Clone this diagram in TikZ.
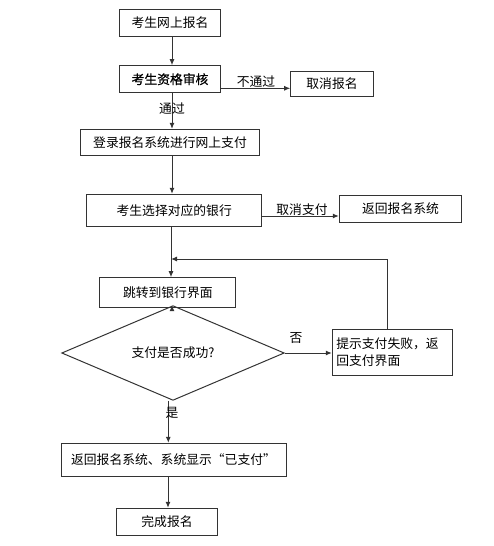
\documentclass[tikz,border=0pt]{standalone}
\usepackage{fontspec}
\newfontfamily\cjk{Noto Sans CJK SC}
\newfontfamily\cjkb[FakeBold=0.8]{Noto Sans CJK SC}
\usetikzlibrary{shapes.geometric,arrows.meta}
\begin{document}
\begin{tikzpicture}[x=1pt,y=-1pt,
  font=\cjk\fontsize{12.8}{17}\selectfont,
  box/.style={draw=black!80,line width=1pt,rectangle,inner sep=0pt,align=center},
  dec/.style={draw=black!80,line width=1pt,diamond,inner sep=0pt},
  arr/.style={draw=black!80,line width=1pt,-{Latex[length=6pt,width=5pt]}},
  lbl/.style={inner sep=0pt}]
\useasboundingbox (0,0) rectangle (494,546);
\coordinate (spine) at (172,0);
\node[box,minimum width=101.4pt,minimum height=27pt] (b1) at (170,22.5) {考生网上报名};
\node[box,minimum width=101pt,minimum height=27pt] (b2) at (170,79.2) {\cjkb 考生资格审核};
\node[box,minimum width=82.6pt,minimum height=25pt] (c1) at (332,83.5) {取消报名};
\node[box,minimum width=178.6pt,minimum height=25.7pt] (b3) at (170,142.2) {登录报名系统进行网上支付};
\node[box,minimum width=175pt,minimum height=32.4pt] (b4) at (174.2,210.5) {考生选择对应的银行};
\node[box,minimum width=122.4pt,minimum height=27.3pt] (r1) at (400.5,208.7) {返回报名系统};
\node[box,minimum width=135.7pt,minimum height=29.6pt] (b5) at (167.8,292.5) {跳转到银行界面};
\node[dec,minimum width=222.6pt,minimum height=56pt] (d1) at (173,353) {支付是否成功?};
\node[box,minimum width=120pt,minimum height=46pt,text width=112pt,align=left] (f1) at (392.3,352.3) {提示支付失败，返\\回支付界面};
\node[box,minimum width=225pt,minimum height=32.7pt] (b7) at (173.5,459.7) {返回报名系统、系统显示“已支付”};
\node[box,minimum width=100.6pt,minimum height=27.4pt] (b8) at (167,522) {完成报名};
\coordinate (p1) at (0,88.3);
\coordinate (p2) at (0,216);
\coordinate (lx) at (387.7,0);
\coordinate (ly) at (0,259);
\coordinate (sx2) at (171,0);
\coordinate (sx3) at (168.3,0);
\coordinate (sx4) at (168,0);
\draw[arr] (b1.south -| spine) -- (b2.north -| spine);
\draw[arr] (b2.south -| spine) -- node[lbl,pos=0.42] {通过} (b3.north -| spine);
\draw[arr] (b2.east |- p1) -- (c1.west |- p1);
\node[lbl] (t1) at (256,81.5) {不通过};
\draw[arr] (b3.south -| spine) -- (b4.north -| spine);
\draw[arr] (b4.east |- p2) -- (r1.west |- p2);
\node[lbl] (t2) at (302,210) {取消支付};
\draw[arr] (b4.south -| sx2) -- (b5.north -| sx2);
\draw[arr] (f1.north -| lx) -- (lx |- ly) -- (ly -| sx2);
\draw[arr] (b5.south -| spine) -- (d1.north -| spine);
\draw[arr] (d1.east) -- (f1.west |- d1.east);
\node[lbl] (t3) at (296,338) {否};
\draw[arr] (d1.south -| sx3) -- (b7.north -| sx3);
\node[lbl] (t4) at (172,413) {是};
\draw[arr] (b7.south -| sx4) -- (b8.north -| sx4);
\end{tikzpicture}
\end{document}
